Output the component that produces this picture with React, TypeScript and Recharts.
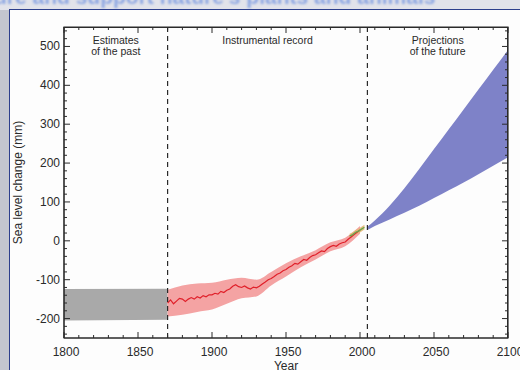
import {
  ComposedChart, Area, Line,
  XAxis, YAxis, ReferenceLine, ReferenceArea
} from "recharts";

// estimates of the past (grey band)
const pastBand = [
  { year: 1800, range: [-205, -124] },
  { year: 1870, range: [-203, -123] },
];

// instrumental record: uncertainty band
const instrBand = [
  { year: 1870, range: [-195, -126] },
  { year: 1880, range: [-190, -115] },
  { year: 1890, range: [-183, -110] },
  { year: 1900, range: [-177, -108] },
  { year: 1910, range: [-162, -100] },
  { year: 1920, range: [-148, -95] },
  { year: 1930, range: [-143, -100] },
  { year: 1940, range: [-115, -80] },
  { year: 1950, range: [-92, -58] },
  { year: 1960, range: [-68, -40] },
  { year: 1970, range: [-48, -24] },
  { year: 1980, range: [-27, -4] },
  { year: 1990, range: [-14, 8] },
  { year: 2000, range: [18, 38] },
];

const instrYears = [
  1870, 1872, 1874, 1876, 1878, 1880, 1882, 1884, 1886, 1888,
  1890, 1892, 1894, 1896, 1898, 1900, 1902, 1904, 1906, 1908,
  1910, 1912, 1914, 1916, 1918, 1920, 1922, 1924, 1926, 1928,
  1930, 1932, 1934, 1936, 1938, 1940, 1942, 1944, 1946, 1948,
  1950, 1952, 1954, 1956, 1958, 1960, 1962, 1964, 1966, 1968,
  1970, 1972, 1974, 1976, 1978, 1980, 1982, 1984, 1986, 1988,
  1990, 1992, 1994, 1996, 1998, 2000,
];
const instrValues = [
  -160, -152, -162, -155, -148, -150, -156, -150, -146, -150,
  -144, -147, -141, -144, -139, -139, -135, -137, -130, -133,
  -127, -124, -117, -113, -118, -120, -116, -121, -124, -119,
  -121, -117, -111, -106, -100, -97, -92, -86, -83, -77,
  -74, -68, -64, -58, -60, -54, -48, -50, -43, -38,
  -36, -31, -26, -28, -20, -15, -12, -14, -8, -5,
  -3, 4, 10, 16, 22, 28,
];
const instrLine = instrYears.map((year, i) => ({ year, value: instrValues[i] }));

// satellite altimetry
const satYears = [1993, 1995, 1997, 1999, 2001, 2003];
const satValues = [12, 16, 22, 25, 30, 35];
const satLow = [6, 10, 16, 19, 24, 29];
const satHigh = [18, 22, 28, 31, 36, 41];
const satLine = satYears.map((year, i) => ({ year, value: satValues[i], range: [satLow[i], satHigh[i]] }));

// projections of the future (blue band)
const projYears = [2005, 2010, 2020, 2030, 2040, 2050, 2060, 2070, 2080, 2090, 2100];
const projLow = [28, 38, 55, 72, 90, 110, 130, 150, 171, 193, 215];
const projHigh = [36, 52, 90, 135, 185, 236, 287, 338, 389, 440, 491];
const projBand = projYears.map((year, i) => ({ year, range: [projLow[i], projHigh[i]] }));

const xTicks = Array.from({ length: 31 }, (_, i) => 1800 + i * 10);
const yTicks = Array.from({ length: 40 }, (_, i) => -240 + i * 20);

const font = "'Liberation Sans', Arial, sans-serif";
const ink = "#2a2a2a";

const W = 520;
const H = 370;
const margin = { top: 27, right: 12, bottom: 12, left: 20 };
const plotTop = margin.top;
const plotRight = W - margin.right;

// bottom ticks also mirrored on the top edge of the frame
const BottomTick = ({ x, y, payload }: any) => {
  const v = payload.value;
  const len = v % 50 === 0 ? 6 : 3;
  return (
    <g>
      <line x1={x} x2={x} y1={y} y2={y - len} stroke={ink} />
      <line x1={x} x2={x} y1={plotTop} y2={plotTop + len} stroke={ink} />
      {v % 50 === 0 && (
        <text x={x + 2} y={y + 18} textAnchor="middle" fontSize={12} fill={ink} fontFamily={font}>
          {v}
        </text>
      )}
    </g>
  );
};

// left ticks also mirrored on the right edge of the frame
const LeftTick = ({ x, y, payload }: any) => {
  const v = payload.value;
  const len = v % 100 === 0 ? 6 : 3;
  return (
    <g>
      <line x1={x} x2={x + len} y1={y} y2={y} stroke={ink} />
      <line x1={plotRight} x2={plotRight - len} y1={y} y2={y} stroke={ink} />
      {v % 100 === 0 && (
        <text x={x - 4} y={y + 4} textAnchor="end" fontSize={12} fill={ink} fontFamily={font}>
          {v}
        </text>
      )}
    </g>
  );
};

const periodLabel = (lines: string[]) => (props: any) => {
  const { x, y, width } = props.viewBox;
  return (
    <text x={x + width / 2} y={y + 17} textAnchor="middle" fontSize={10.5} fill={ink} fontFamily={font}>
      {lines.map((l, i) => (
        <tspan key={i} x={x + width / 2} dy={i === 0 ? 0 : 11}>{l}</tspan>
      ))}
    </text>
  );
};

export default function App() {
  return (
    <div style={{ position: "absolute", left: 0, top: 0, width: W, height: H, overflow: "hidden", background: "#c3c6cf" }}>
      <div style={{ position: "absolute", left: 0, top: 0, width: W, height: 10, background: "#e2e3ea" }} />
      <div style={{ position: "absolute", left: -6, top: -15, whiteSpace: "nowrap", color: "#8fa8e2", fontFamily: font, fontWeight: "bold", fontSize: 21, filter: "blur(1px)" }}>
        ure and support nature's plants and animals
      </div>
      <div style={{ position: "absolute", left: 9, top: 9, width: 515, height: 365, background: "#fdfdfd", borderLeft: "1.5px solid #2d3f8c", borderTop: "1.5px solid #2d3f8c" }} />
      <div style={{ position: "absolute", left: 0, top: 0, width: W, height: H }}>
        <ComposedChart width={W} height={H} margin={margin} style={{ overflow: "visible" }}>
          <XAxis dataKey="year" type="number" domain={[1800, 2100]} ticks={xTicks} interval={0}
            allowDataOverflow height={20} tickSize={0} tickMargin={0} tick={<BottomTick />}
            axisLine={{ stroke: ink }} tickLine={false}
            label={{ value: "Year", position: "bottom", offset: 3, fontSize: 12, fill: ink, fontFamily: font }} />
          <YAxis type="number" domain={[-250, 550]} ticks={yTicks} interval={0} allowDataOverflow
            width={44} tickSize={0} tickMargin={0} tick={<LeftTick />} axisLine={{ stroke: ink }} tickLine={false}
            label={{
              content: (p: any) => {
                const { x, y, height } = p.viewBox;
                const cx = x - 1;
                const cy = y + height / 2;
                return (
                  <text x={cx} y={cy} transform={`rotate(-90 ${cx} ${cy})`} textAnchor="middle"
                    dominantBaseline="middle" fontSize={12} fill={ink} fontFamily={font}>
                    Sea level change (mm)
                  </text>
                );
              },
            }} />

          <Area data={pastBand} dataKey="range" type="linear" fill="#a9a9a9" fillOpacity={1}
            stroke="none" isAnimationActive={false} dot={false} activeDot={false} />
          <Area data={instrBand} dataKey="range" type="monotone" fill="#f4a3a3" fillOpacity={1}
            stroke="none" isAnimationActive={false} dot={false} activeDot={false} />
          <Area data={projBand} dataKey="range" type="monotone" fill="#7e82c8" fillOpacity={1}
            stroke="none" isAnimationActive={false} dot={false} activeDot={false} />
          <Area data={satLine} dataKey="range" type="linear" fill="#e7b878" fillOpacity={0.9}
            stroke="none" isAnimationActive={false} dot={false} activeDot={false} />
          <Line data={instrLine} dataKey="value" type="linear" stroke="#e0202a" strokeWidth={1.2}
            dot={false} activeDot={false} isAnimationActive={false} />
          <Line data={satLine} dataKey="value" type="linear" stroke="#6aa84f" strokeWidth={1.3}
            dot={false} activeDot={false} isAnimationActive={false} />

          <ReferenceArea x1={1800} x2={1870} fill="none" stroke="none"
            label={{ content: periodLabel(["Estimates", "of the past"]) }} />
          <ReferenceArea x1={1870} x2={2005} fill="none" stroke="none"
            label={{ content: periodLabel(["Instrumental record"]) }} />
          <ReferenceArea x1={2005} x2={2100} fill="none" stroke="none"
            label={{ content: periodLabel(["Projections", "of the future"]) }} />
          {/* plot frame */}
          <ReferenceArea x1={1800} x2={2100} y1={-250} y2={550} fill="none" stroke={ink}
            strokeWidth={1.2} ifOverflow="visible" />

          <ReferenceLine x={1870} stroke={ink} strokeDasharray="5 4" strokeWidth={1.2} />
          <ReferenceLine x={2005} stroke={ink} strokeDasharray="5 4" strokeWidth={1.2} />
        </ComposedChart>
      </div>
      {/* frame overlay */}
      <div style={{ position: "absolute", left: margin.left + 44, top: plotTop, width: plotRight - margin.left - 44, height: H - margin.bottom - 20 - plotTop, boxSizing: "border-box", borderTop: `1px solid ${ink}`, borderRight: `1px solid ${ink}`, pointerEvents: "none" }} />
    </div>
  );
}
